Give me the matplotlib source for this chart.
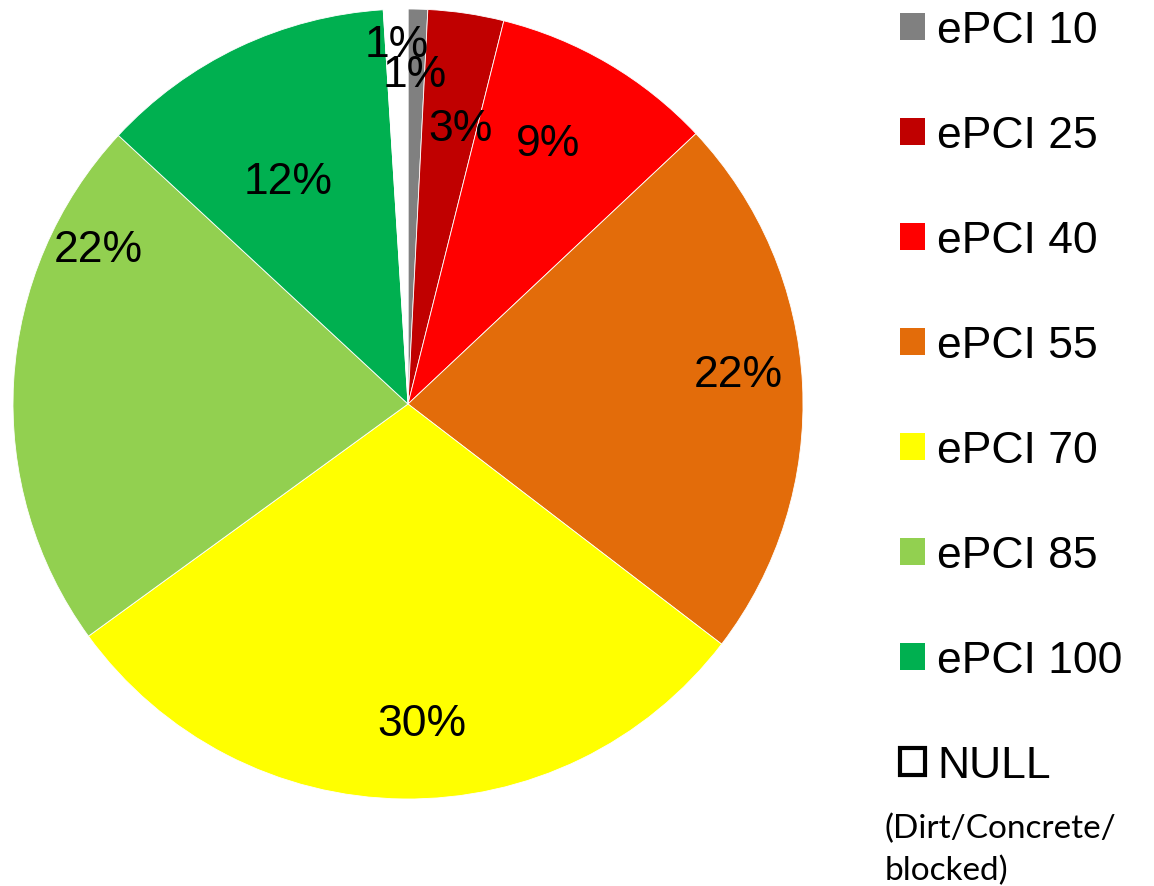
import numpy as np
import matplotlib
matplotlib.use("Agg")
import matplotlib.pyplot as plt
from matplotlib.patches import Patch

# slice values (percent), clockwise from 12 o'clock
labels = ["ePCI 10", "ePCI 25", "ePCI 40", "ePCI 55", "ePCI 70", "ePCI 85", "ePCI 100", "NULL"]
values = [0.8, 3.1, 9.1, 22.4, 29.6, 21.9, 12.1, 1.0]
colors = ["#808080", "#C00000", "#FF0000", "#E36C0A", "#FFFF00", "#92D050", "#00B050", "#FFFFFF"]

# label placement (fraction of radius, angular nudge in degrees), Excel "best fit" style
label_r = [0.835, 0.71, 0.75, 0.84, 0.81, 0.875, 0.64, 0.91]
label_shift = [0.2, -2.4, 2.1, 2.3, 3.2, -23.1, 3.0, 0.0]

W, H = 1154, 887
fig = plt.figure(figsize=(W / 100, H / 100), dpi=100)
cx, cy, r = 408, 405, 395
ax = fig.add_axes([(cx - r) / W, (H - cy - r) / H, 2 * r / W, 2 * r / H])

wedges, _ = ax.pie(
    values,
    colors=colors,
    startangle=90,
    counterclock=False,
    radius=1,
    wedgeprops=dict(edgecolor="white", linewidth=0.6),
)
ax.set_xlim(-1, 1)
ax.set_ylim(-1, 1)
ax.set_aspect("equal")
ax.axis("off")

total = sum(values)
for w, v, d, s in zip(wedges, values, label_r, label_shift):
    ang = np.deg2rad((w.theta1 + w.theta2) / 2 + s)
    ax.text(d * np.cos(ang), d * np.sin(ang), f"{v / total * 100:.0f}%",
            ha="center", va="center", fontsize=32, family="Liberation Sans")

handles = [Patch(facecolor=c, edgecolor="none") for c in colors[:-1]]
handles.append(Patch(facecolor="white", edgecolor="black", linewidth=3))
leg = fig.legend(
    handles, labels,
    loc="upper left",
    bbox_to_anchor=(900 / W, 1 - 11 / H),
    frameon=False,
    borderpad=0,
    borderaxespad=0,
    handlelength=0.56,
    handleheight=0.56,
    handletextpad=0.27,
    labelspacing=1.44,
    prop={"family": "Liberation Sans", "size": 32},
)

fig.text(885 / W, 1 - 814 / H, "(Dirt/Concrete/\nblocked)", ha="left", va="top",
         fontsize=24, family="Lato", linespacing=1.45)

fig.savefig("out.png", dpi=100)
